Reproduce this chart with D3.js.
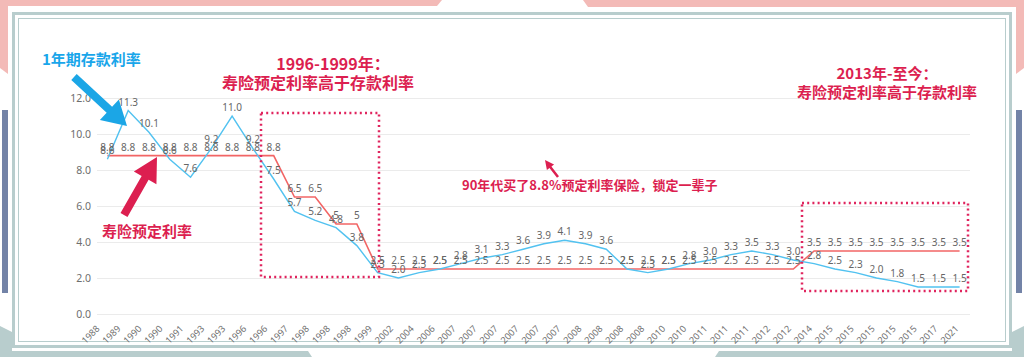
<!DOCTYPE html>
<html>
<head>
<meta charset="utf-8">
<script src="https://cdn.jsdelivr.net/npm/d3@7"></script>
<style>
  html, body { margin: 0; padding: 0; background: #ffffff; }
  svg { display: block; }
</style>
</head>
<body>
<script>
// ---------------- DATA ----------------
const categories = ["1988","1989","1990","1990","1991","1993","1993","1996","1996","1997","1998","1998","1998","1999","2002","2004","2006","2007","2007","2007","2007","2007","2007","2008","2008","2008","2008","2010","2010","2011","2011","2011","2012","2012","2014","2015","2015","2015","2015","2015","2017","2021"];
const depositRate = [8.6, 11.3, 10.1, 8.6, 7.6, 9.2, 11.0, 9.2, 7.5, 5.7, 5.2, 4.8, 3.8, 2.3, 2.0, 2.3, 2.5, 2.8, 3.1, 3.3, 3.6, 3.9, 4.1, 3.9, 3.6, 2.5, 2.3, 2.5, 2.8, 3.0, 3.3, 3.5, 3.3, 3.0, 2.8, 2.5, 2.3, 2.0, 1.8, 1.5, 1.5, 1.5];
const insuranceRate = [8.8, 8.8, 8.8, 8.8, 8.8, 8.8, 8.8, 8.8, 8.8, 6.5, 6.5, 5, 5, 2.5, 2.5, 2.5, 2.5, 2.5, 2.5, 2.5, 2.5, 2.5, 2.5, 2.5, 2.5, 2.5, 2.5, 2.5, 2.5, 2.5, 2.5, 2.5, 2.5, 2.5, 3.5, 3.5, 3.5, 3.5, 3.5, 3.5, 3.5, 3.5];
const yTicks = [0, 2, 4, 6, 8, 10, 12];

// ---------------- SETUP ----------------
const W = 1024, H = 357;
const svg = d3.select("body").append("svg").attr("width", W).attr("height", H);
const numFont = "'Noto Sans', 'Open Sans', sans-serif";
const cjkFont = "'Noto Sans CJK SC', 'Noto Sans', sans-serif";
const blue = "#52c2f0", red = "#f26565", crimson = "#dc1f50", skyText = "#19a6ea";

// ---------------- FRAME DECORATION ----------------
const pink = "#f3bab7", navy = "#7383a7", teal = "#b8cdcd";
const deco = svg.append("g");
deco.append("path").attr("fill", pink).attr("d", "M0,0 L442,0 L437,6 L0,6 Z");
deco.append("path").attr("fill", pink).attr("d", "M583,0 L1024,0 L1024,7 L588,7 Z");
deco.append("path").attr("fill", pink).attr("d", "M0,0 L8,0 L8,74 L0,68 Z");
deco.append("path").attr("fill", pink).attr("d", "M1016,0 L1024,0 L1024,68 L1016,74 Z");
deco.append("rect").attr("fill", navy).attr("x", 2).attr("y", 110).attr("width", 6).attr("height", 183);
deco.append("rect").attr("fill", navy).attr("x", 1016).attr("y", 110).attr("width", 6).attr("height", 183);
deco.append("path").attr("fill", teal).attr("d", "M0,351 L308,351 L312,357 L0,357 Z");
deco.append("path").attr("fill", teal).attr("d", "M0,326 L12,332 L12,357 L0,357 Z");
deco.append("path").attr("fill", teal).attr("d", "M719,351 L1024,351 L1024,357 L715,357 Z");
deco.append("path").attr("fill", teal).attr("d", "M1012,332 L1024,326 L1024,357 L1012,357 Z");
deco.append("rect").attr("x", 13.5).attr("y", 13.5).attr("width", 997).attr("height", 333)
  .attr("fill", "none").attr("stroke", teal).attr("stroke-width", 3);
deco.append("rect").attr("x", 18.5).attr("y", 18.5).attr("width", 987).attr("height", 323)
  .attr("fill", "none").attr("stroke", teal).attr("stroke-width", 1);

// ---------------- SCALES ----------------
const band = d3.scaleBand().domain(d3.range(categories.length)).range([97, 970]);
const x = i => band(i) + band.bandwidth() / 2;
const y = d3.scaleLinear().domain([0, 12]).range([314, 98]);
const xLabel = d3.scalePoint().domain(d3.range(categories.length)).range([98, 957]);

// ---------------- Y AXIS + GRID ----------------
const yAxis = d3.axisLeft(y).tickValues(yTicks).tickFormat(d => d.toFixed(1))
  .tickSizeInner(-(970 - 97)).tickSizeOuter(0).tickPadding(6);
const ga = svg.append("g").attr("transform", "translate(97,0)").call(yAxis);
ga.select(".domain").remove();
ga.selectAll(".tick line").attr("stroke", "#ebebeb").attr("stroke-width", 1);
ga.selectAll(".tick text").attr("fill", "#6e6e6e").style("font-family", numFont).style("font-size", "10.5px");

// ---------------- X LABELS ----------------
svg.append("g").selectAll("text").data(categories).join("text")
  .attr("transform", (d, i) => `translate(${xLabel(i)},327) rotate(-45)`)
  .attr("text-anchor", "end").attr("dy", "0.35em")
  .attr("fill", "#707070").style("font-family", numFont).style("font-size", "9.2px")
  .text(d => d);

// ---------------- LINES ----------------
const line = d3.line().x((d, i) => x(i)).y(d => y(d));
svg.append("path").datum(insuranceRate).attr("d", line)
  .attr("fill", "none").attr("stroke", red).attr("stroke-width", 1.6);
svg.append("path").datum(depositRate).attr("d", line)
  .attr("fill", "none").attr("stroke", blue).attr("stroke-width", 1.4);

// ---------------- DATA LABELS ----------------
const lblStyle = sel => sel.attr("text-anchor", "middle").attr("fill", "#666")
  .style("font-family", numFont).style("font-size", "10px");
svg.append("g").selectAll("text").data(depositRate).join("text")
  .attr("x", (d, i) => x(i)).attr("y", d => y(d) - 5)
  .call(lblStyle).text(d => d.toFixed(1));
svg.append("g").selectAll("text").data(insuranceRate).join("text")
  .attr("x", (d, i) => x(i)).attr("y", d => y(d) - 5)
  .call(lblStyle).text(d => String(d));

// ---------------- ANNOTATIONS ----------------
function arrowPath(x1, y1, x2, y2, sw, hl, hw) {
  const dx = x2 - x1, dy = y2 - y1, L = Math.hypot(dx, dy);
  const ux = dx / L, uy = dy / L, px = -uy, py = ux;
  const bx = x2 - ux * hl, by = y2 - uy * hl;
  const p = [
    [x1 + px * sw / 2, y1 + py * sw / 2],
    [bx + px * sw / 2, by + py * sw / 2],
    [bx + px * hw / 2, by + py * hw / 2],
    [x2, y2],
    [bx - px * hw / 2, by - py * hw / 2],
    [bx - px * sw / 2, by - py * sw / 2],
    [x1 - px * sw / 2, y1 - py * sw / 2]
  ];
  return "M" + p.map(q => q.join(",")).join("L") + "Z";
}
svg.append("path").attr("fill", "#1ba6e6").attr("d", arrowPath(74, 77, 127, 126, 8, 24, 28));
svg.append("path").attr("fill", crimson).attr("d", arrowPath(124, 215, 157, 157, 8, 24, 26));
svg.append("path").attr("fill", crimson).attr("d", arrowPath(558, 177, 545, 160, 2.5, 9, 9));

const ann = svg.append("g").style("font-family", cjkFont).style("font-weight", "bold");
ann.append("text").attr("x", 42).attr("y", 65).attr("fill", skyText).style("font-size", "15px").text("1年期存款利率");
ann.append("text").attr("x", 102).attr("y", 237).attr("fill", crimson).style("font-size", "15px").text("寿险预定利率");
ann.append("text").attr("x", 333).attr("y", 70).attr("text-anchor", "middle").attr("fill", crimson).style("font-size", "16px").text("1996-1999年：");
ann.append("text").attr("x", 318).attr("y", 89).attr("text-anchor", "middle").attr("fill", crimson).style("font-size", "16px").text("寿险预定利率高于存款利率");
ann.append("text").attr("x", 887).attr("y", 79).attr("text-anchor", "middle").attr("fill", crimson).style("font-size", "15px").text("2013年-至今：");
ann.append("text").attr("x", 887).attr("y", 98).attr("text-anchor", "middle").attr("fill", crimson).style("font-size", "15px").text("寿险预定利率高于存款利率");
ann.append("text").attr("x", 462).attr("y", 190).attr("fill", crimson).style("font-size", "13px").text("90年代买了8.8%预定利率保险，锁定一辈子");

// dotted boxes
const boxStyle = sel => sel.attr("fill", "none").attr("stroke", "#e0245e")
  .attr("stroke-width", 2.5).attr("stroke-dasharray", "2,3.2");
svg.append("rect").attr("x", 261).attr("y", 113).attr("width", 118).attr("height", 164).call(boxStyle);
svg.append("rect").attr("x", 802).attr("y", 203).attr("width", 166).attr("height", 88).call(boxStyle);
</script>
</body>
</html>
